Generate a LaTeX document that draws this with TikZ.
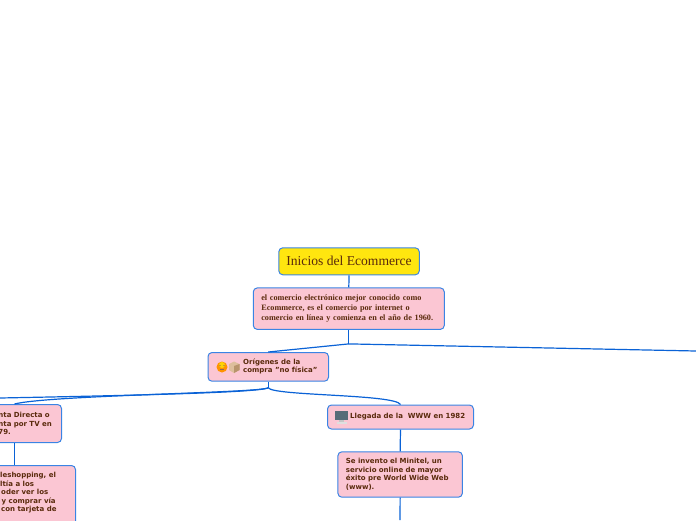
\documentclass[tikz,border=0pt]{standalone}
\usepackage{fontspec}
\setmainfont{Liberation Serif}
\setsansfont{DejaVu Sans}[Ligatures=ResetAll]
\usetikzlibrary{arrows.meta,positioning,calc}
\definecolor{lineblue}{HTML}{0A62D6}
\definecolor{boxblue}{HTML}{3A84E4}
\definecolor{pinkfill}{HTML}{FBC6D3}
\definecolor{rootfill}{HTML}{FFE60F}
\definecolor{inkbrown}{HTML}{5A2A0C}
\definecolor{cardlight}{HTML}{DDBE9C}
\definecolor{carddark}{HTML}{B8946C}
\definecolor{screengrey}{HTML}{566C78}

\begin{document}
\begin{tikzpicture}[
    x=1pt, y=-1pt,
    topic/.style={
        rectangle,
        rounded corners=4pt,
        draw=boxblue,
        line width=1pt,
        fill=#1,
        text=inkbrown,
        anchor=north west,
        inner sep=0pt,
        align=left
    },
    sanslabel/.style={
        font=\sffamily\bfseries\fontsize{7}{8.5}\selectfont,
        text=inkbrown,
        align=left,
        inner sep=0pt
    },
    branch/.style={
        draw=lineblue,
        line width=1.2pt
    }
]
\useasboundingbox (0,0) rectangle (696,520);
\clip (0,0) rectangle (696,520);

% Root and description
\node[topic=rootfill,minimum width=140.5pt,minimum height=27pt,font=\fontsize{13.6}{15}\selectfont,align=center] (root) at (278.3,247.3) {Inicios del Ecommerce};
\node[topic=pinkfill,minimum height=41.5pt,font=\bfseries\fontsize{8.2}{10.2}\selectfont,text width=175pt,inner xsep=8pt] (intro) at (252.8,287.4) {el comercio electrónico mejor conocido como\\Ecommerce, es el comercio por internet o\\comercio en línea y comienza en el año de 1960.};

% Origenes branch
\node[topic=pinkfill,minimum width=120.5pt,minimum height=28.7pt] (origen) at (207.5,352) {};
\node[sanslabel,anchor=west] (origentext) at (243,366.5) {Orígenes de la\\compra "no física"};

% Boxes cut by the page edge
\node[topic=pinkfill,minimum height=38pt,sanslabel,text width=94pt] (venta) at (-33,404) {\hspace*{31pt}nta Directa o\\\hspace*{31pt}nta por TV en\\\hspace*{31pt}79.};
\node[topic=pinkfill,minimum width=122pt,minimum height=80pt] (tele) at (-47,465) {};
\node[sanslabel,anchor=north west] (teletext) at (0,472) {leshopping, el\\ltía a los\\\hspace*{1pt}oder ver los\\\hspace*{1.5pt}y comprar vía\\\hspace*{1pt}con tarjeta de};

% WWW branch
\node[topic=pinkfill,minimum width=146pt,minimum height=24pt] (www) at (327,404.5) {};
\node[sanslabel,anchor=west] (wwwtext) at (350,416.5) {Llegada de la\ \ WWW en 1982};
\node[topic=pinkfill,minimum height=45.4pt,sanslabel,text width=108.5pt,inner xsep=8pt] (minitel) at (337.4,451.3) {Se invento el Minitel, un\\servicio online de mayor\\éxito pre World Wide Web\\(www).};

% Free ends
\coordinate (offright) at (696,351);
\coordinate (offleft) at (0,398);
\coordinate (offdown) at (400,520);

% Connectors
\draw[branch] (root.south) -- (intro.north);
\draw[branch] (intro.south) -- ++(0,14) coordinate (fork);
\draw[branch] (fork) -- (origen.north);
\draw[branch] (fork) -- (offright);
\draw[branch] (origen.south) -- ++(0,6) coordinate (split);
\draw[branch] (split) .. controls (262,393) and (100,396) .. (offleft);
\draw[branch] (split) .. controls (262,393) and (50,395) .. (venta.north);
\draw[branch] (split) .. controls (272,396) and (395,394) .. (www.north);
\draw[branch] (venta.south) -- (tele.north);
\draw[branch] (www.south) -- (minitel.north);
\draw[branch] (minitel.south) -- (offdown);

% Icons
\fill[orange!85!yellow] (222,367) circle (5.5);
\fill[yellow!70!orange] (222,365) circle (3);
\fill[inkbrown!70] (220,365.5) circle (0.7) (224,365.5) circle (0.7);
\draw[inkbrown!70,line width=.7pt] (220,369) -- (224,369);
\fill[cardlight] (229,364) -- (234,361.5) -- (239.5,364) -- (239.5,370) -- (234,373) -- (229,370) -- cycle;
\fill[carddark] (234,366) -- (239.5,364) -- (239.5,370) -- (234,373) -- cycle;
\fill[screengrey] (335,410.5) rectangle (348,420);
\fill[gray!45] (339,420) rectangle (344,422);
\fill[gray!25] (336.5,422) rectangle (346.5,423.5);
\end{tikzpicture}
\end{document}
